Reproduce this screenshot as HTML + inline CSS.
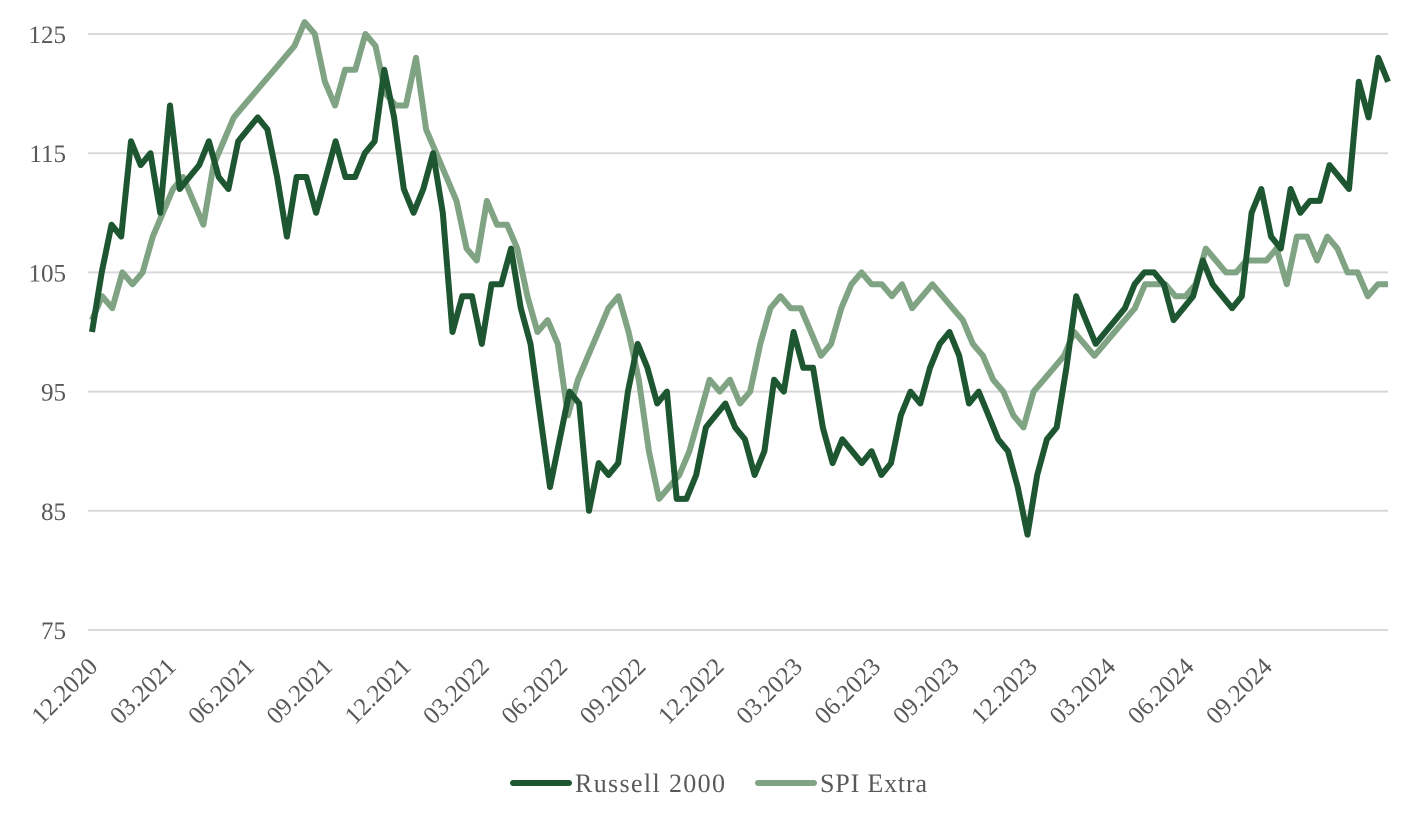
<!DOCTYPE html>
<html><head><meta charset="utf-8"><style>
body{margin:0;background:#fff}
svg{display:block;font-family:"Liberation Serif",serif}
</style></head><body>
<svg id="chart" width="1412" height="824" viewBox="0 0 1412 824"></svg>
<script>
const yTicks=[75,85,95,105,115,125];
const xLabels=["12.2020","03.2021","06.2021","09.2021","12.2021","03.2022","06.2022","09.2022","12.2022","03.2023","06.2023","09.2023","12.2023","03.2024","06.2024","09.2024"];
const russell=[100,105,109,108,116,114,115,110,119,112,113,114,116,113,112,116,117,118,117,113,108,113,113,110,113,116,113,113,115,116,122,118,112,110,112,115,110,100,103,103,99,104,104,107,102,99,93,87,91,95,94,85,89,88,89,95,99,97,94,95,86,86,88,92,93,94,92,91,88,90,96,95,100,97,97,92,89,91,90,89,90,88,89,93,95,94,97,99,100,98,94,95,93,91,90,87,83,88,91,92,97,103,101,99,100,101,102,104,105,105,104,101,102,103,106,104,103,102,103,110,112,108,107,112,110,111,111,114,113,112,121,118,123,121];
const spi=[101,103,102,105,104,105,108,110,112,113,111,109,114,116,118,119,120,121,122,123,124,126,125,121,119,122,122,125,124,120,119,119,123,117,115,113,111,107,106,111,109,109,107,103,100,101,99,93,96,98,100,102,103,100,96,90,86,87,88,90,93,96,95,96,94,95,99,102,103,102,102,100,98,99,102,104,105,104,104,103,104,102,103,104,103,102,101,99,98,96,95,93,92,95,96,97,98,100,99,98,99,100,101,102,104,104,104,103,103,104,107,106,105,105,106,106,106,107,104,108,108,106,108,107,105,105,103,104,104];
const NS="http://www.w3.org/2000/svg";
const svg=document.getElementById('chart');
const X0=92,X1=1388,Q0=99,QW=78.3;
function y(v){return 34+(125-v)*11.92;}
function xi(i,n){return X0+(X1-X0)*i/(n-1);}
function mk(t,a){const e=document.createElementNS(NS,t);for(const k in a)e.setAttribute(k,a[k]);svg.appendChild(e);return e;}
yTicks.forEach(v=>{
 const g=mk('line',{x1:88,x2:1388,y1:y(v),y2:y(v),stroke:'#d9d9d9','stroke-width':2});
 
 
 const t=mk('text',{x:66,y:y(v)+9,'text-anchor':'end','font-size':25,fill:'#595959'});
 t.textContent=v;
 
 
});
xLabels.forEach((l,i)=>{
 const x=Q0+QW*i;
 const t=mk('text',{x:x,y:668,'text-anchor':'end','font-size':25,fill:'#595959',transform:`rotate(-45 ${x} 668)`});
 t.textContent=l;
 
 
});
function series(d,c,name){
 const pts=d.map((v,i)=>xi(i,d.length).toFixed(1)+','+y(v).toFixed(1)).join(' ');
 const p=mk('polyline',{points:pts,fill:'none',stroke:c,'stroke-width':6,'stroke-linejoin':'round'});
 
 
}
series(spi,'#7fa383','spi-extra-line');
series(russell,'#1d5631','russell-2000-line');
function leg(x,c,label,name,w){
 const l=mk('line',{x1:x,x2:x+56,y1:783,y2:783,stroke:c,'stroke-width':6,'stroke-linecap':'round'});
 
 
 const t=mk('text',{x:x+62,y:792,'font-size':26,fill:'#595959',textLength:w,lengthAdjust:'spacing'});
 t.textContent=label;
 
 
}
leg(513,'#1d5631','Russell 2000','legend-russell-2000',150);
leg(758,'#7fa383','SPI Extra','legend-spi-extra',107);
</script>
</body></html>
